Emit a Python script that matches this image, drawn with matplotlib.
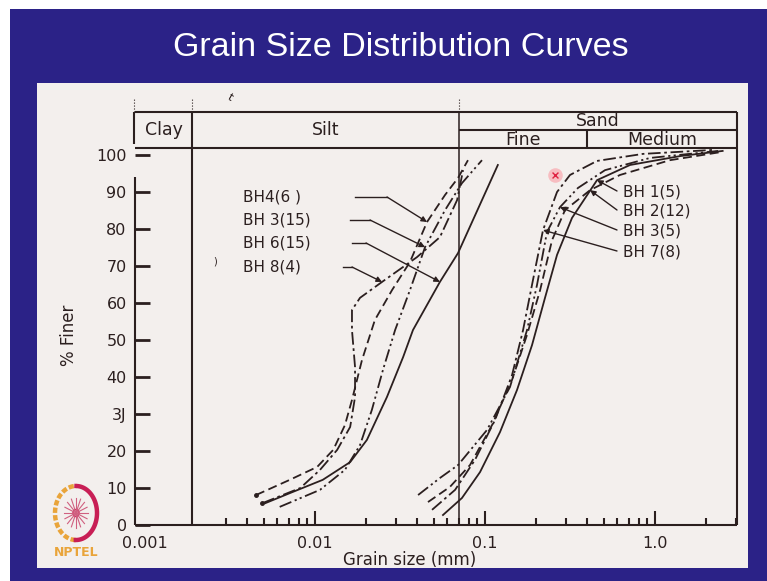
import numpy as np
import matplotlib
matplotlib.use('Agg')
import matplotlib.pyplot as plt
from matplotlib.patches import Rectangle, Ellipse

# ---- data (grain size in mm, % finer) ----
# silt group
bh4_6_d = [0.0045, 0.0071, 0.0103, 0.0128, 0.0150, 0.0165, 0.0189, 0.0225, 0.0284, 0.0362, 0.0456, 0.0582, 0.0694, 0.0794]
bh4_6_p = [8.1, 12.2, 15.7, 20.3, 27.0, 33.8, 44.6, 55.4, 63.5, 71.1, 81.9, 89.2, 93.8, 98.6]

bh3_15_d = [0.0062, 0.0107, 0.0150, 0.0184, 0.0216, 0.0251, 0.0296, 0.0362, 0.0444, 0.0582, 0.0732, 0.0960]
bh3_15_p = [4.9, 9.5, 14.9, 21.6, 31.1, 41.9, 52.7, 63.5, 75.1, 85.1, 92.4, 98.6]

bh6_15_d = [0.0051, 0.0071, 0.0111, 0.0161, 0.0202, 0.0265, 0.0330, 0.0377, 0.0543, 0.0694, 0.1190]
bh6_15_p = [5.9, 8.6, 12.2, 17.0, 23.0, 34.6, 45.4, 52.7, 65.7, 73.5, 97.3]

bh8_4_d = [0.0049, 0.0082, 0.0107, 0.0135, 0.0161, 0.0172, 0.0172, 0.0165, 0.0165, 0.0184, 0.0248, 0.0398, 0.0543, 0.0685, 0.0743]
bh8_4_p = [5.9, 10.0, 14.9, 20.3, 26.5, 34.6, 42.7, 52.7, 58.1, 61.4, 65.7, 72.4, 77.8, 87.8, 95.9]

# sand group
bh1_5_d = [0.0566, 0.0732, 0.0935, 0.1225, 0.1543, 0.189, 0.2254, 0.2653, 0.325, 0.456, 0.713, 1.403, 2.50]
bh1_5_p = [2.7, 7.3, 14.3, 25.1, 36.5, 48.6, 61.4, 73.0, 83.0, 93.2, 97.3, 99.7, 101.1]

bh2_12_d = [0.0462, 0.0622, 0.0816, 0.110, 0.1442, 0.1767, 0.211, 0.248, 0.2955, 0.415, 0.622, 1.225, 2.45]
bh2_12_p = [6.2, 10.3, 16.2, 27.0, 39.2, 51.4, 63.5, 77.0, 85.1, 90.5, 94.6, 98.6, 100.8]

bh3_5_d = [0.0404, 0.0543, 0.0694, 0.1028, 0.1403, 0.1767, 0.2023, 0.2316, 0.276, 0.3524, 0.508, 0.934, 2.35]
bh3_5_p = [8.1, 12.7, 16.2, 25.7, 37.3, 52.7, 64.9, 79.2, 85.9, 91.1, 95.9, 99.2, 101.1]

bh7_8_d = [0.0488, 0.0667, 0.0873, 0.1146, 0.1442, 0.1675, 0.1915, 0.2194, 0.2653, 0.3162, 0.456, 0.850, 2.25]
bh7_8_p = [4.1, 9.5, 17.6, 28.4, 40.5, 52.7, 66.2, 79.7, 90.0, 94.6, 98.4, 100.3, 101.4]

# soil class boundaries (mm) and axis labels
clay_silt = 0.0019
silt_sand = 0.07
fine_medium = 0.4
y_ticks = [0, 10, 20, 30, 40, 50, 60, 70, 80, 90, 100]
y_labels = ['0', '10', '20', '3J', '40', '50', '60', '70', '80', '90', '100']
x_major = [0.001, 0.01, 0.1, 1.0]
x_major_labels = ['0.001', '0.01', '0.1', '1.0']

# ---- style ----
INK = '#2b1f1f'
PAPER = '#f3efed'
SLIDE = '#2b2287'
W, H = 767, 581

fig = plt.figure(figsize=(W / 100, H / 100), dpi=100, facecolor='white')


def fpx(x, y):
    """pixel -> figure fraction"""
    return x / W, 1 - y / H


# slide background and paper
fig.patches.append(Rectangle((10 / W, 0), 1, 1 - 9 / H, transform=fig.transFigure,
                             facecolor=SLIDE, edgecolor='none', zorder=-3))
fig.patches.append(Rectangle(fpx(37, 568), (748 - 37) / W, (568 - 83) / H, transform=fig.transFigure,
                             facecolor=PAPER, edgecolor='none', zorder=-2))

fig.text(*fpx(401, 48), 'Grain Size Distribution Curves', color='white', fontsize=24.5,
         family=['Liberation Sans', 'DejaVu Sans'], ha='center', va='center')

# axes area in pixels: x 135..737, y 525 (0 %) .. 112 (header top)
ax = fig.add_axes([135 / W, 1 - 525 / H, (737 - 135) / W, (525 - 112) / H])
ax.patch.set_alpha(0)
ax.set_xscale('log')
x0, x1 = 10 ** ((135 - 655) / 170), 10 ** ((737 - 655) / 170)
ymax = (525 - 112) / 3.7
ax.set_xlim(x0, x1)
ax.set_ylim(0, ymax)
for s in ax.spines.values():
    s.set_visible(False)

frame = dict(color=INK, lw=1.5, solid_capstyle='butt', clip_on=False)
y_mid = (525 - 130) / 3.7
y_hdr = (525 - 148) / 3.7
ax.plot([x0, x1], [0, 0], **frame)
ax.plot([x0, x0], [0, 94], **frame)
ax.plot([x0 * 0.985, x0 * 0.985], [103, ymax], **frame)
ax.plot([x1, x1], [0, ymax], **frame)
ax.plot([x0, x1], [ymax, ymax], **frame)
ax.plot([x0, x1], [y_hdr, y_hdr], **frame)
ax.plot([silt_sand, x1], [y_mid, y_mid], **frame)
ax.plot([fine_medium, fine_medium], [y_hdr, y_mid], **frame)
ax.plot([clay_silt, clay_silt], [0, ymax], **frame)
ax.plot([silt_sand, silt_sand], [0, ymax], color=INK, lw=1.1, clip_on=False)
dots = dict(color=INK, lw=0.8, ls=':', clip_on=False)
for xv in (x0 * 0.985, clay_silt, silt_sand):
    ax.plot([xv, xv], [ymax, ymax + 3.5], **dots)

hdr = dict(color=INK, fontsize=12.5, ha='center', va='center')
ax.text(np.sqrt(x0 * clay_silt), (ymax + y_hdr) / 2, 'Clay', **hdr)
ax.text(np.sqrt(clay_silt * silt_sand), (ymax + y_hdr) / 2, 'Silt', **hdr)
ax.text(np.sqrt(silt_sand * x1), (ymax + y_mid) / 2, 'Sand', **hdr)
ax.text(np.sqrt(silt_sand * fine_medium), (y_mid + y_hdr) / 2 - 0.3, 'Fine', **hdr)
ax.text(np.sqrt(fine_medium * x1), (y_mid + y_hdr) / 2 - 0.3, 'Medium', **hdr)

# ticks
ax.set_yticks(y_ticks)
ax.set_yticklabels(y_labels)
ax.set_xticks(x_major)
ax.set_xticklabels(x_major_labels)
minors = [k * 10.0 ** n for n in range(-3, 1) for k in range(2, 10)]
minors = [m for m in minors if 0.0028 < m < x1]
ax.set_xticks(minors, minor=True)
ax.xaxis.set_minor_formatter(plt.NullFormatter())
ax.tick_params(axis='y', direction='in', length=11, width=2, colors=INK, labelsize=11.5, pad=6)
ax.tick_params(axis='x', which='major', direction='in', length=10, width=1.5, colors=INK,
               labelsize=11.5, pad=8)
ax.tick_params(axis='x', which='minor', direction='in', length=5, width=1.5, colors=INK)
ax.xaxis.get_major_ticks()[0].tick1line.set_visible(False)

fig.text(*fpx(410, 560), 'Grain size (mm)', color=INK, fontsize=12, ha='center', va='center')
fig.text(*fpx(69, 335), '% Finer', color=INK, fontsize=12, ha='center', va='center', rotation=90)

# ---- curves ----
DASH = (0, (5, 2.5))
DASHDOT = (0, (7, 2, 1.5, 2))
DASHDOTDOT = (0, (7, 2, 1.2, 1.8, 1.2, 2))
lw = 1.3
curves = [
    (bh4_6_d, bh4_6_p, DASH),
    (bh3_15_d, bh3_15_p, DASHDOTDOT),
    (bh6_15_d, bh6_15_p, '-'),
    (bh8_4_d, bh8_4_p, DASHDOT),
    (bh1_5_d, bh1_5_p, '-'),
    (bh2_12_d, bh2_12_p, DASH),
    (bh3_5_d, bh3_5_p, DASHDOTDOT),
    (bh7_8_d, bh7_8_p, DASHDOT),
]
for d, p, ls in curves:
    ax.plot(d, p, color=INK, lw=lw, ls=ls, clip_on=False)
for d, p in [(bh4_6_d, bh4_6_p), (bh8_4_d, bh8_4_p)]:
    ax.plot(d[0], p[0], 'o', color=INK, ms=2.5)


def pdata(x, y):
    """pixel -> data (for label placement)"""
    return 10 ** ((x - 655) / 170), (525 - y) / 3.7


def label(text, tx, ty, knee_x, kx0, target):
    ax.text(*pdata(tx, ty), text, color=INK, fontsize=11, ha='left', va='center')
    a = pdata(kx0, ty)
    b = pdata(knee_x, ty)
    ax.plot([a[0], b[0]], [a[1], b[1]], color=INK, lw=1.0)
    ax.annotate('', xy=target, xytext=b,
                arrowprops=dict(arrowstyle='-|>', mutation_scale=8, lw=1.0, color=INK,
                                shrinkA=0, shrinkB=0))


label('BH4(6 )', 243, 197, 387, 355, (bh4_6_d[10], bh4_6_p[10]))
label('BH 3(15)', 243, 220, 370, 350, (bh3_15_d[8], bh3_15_p[8]))
label('BH 6(15)', 243, 243, 366, 352, (bh6_15_d[8], bh6_15_p[8]))
label('BH 8(4)', 243, 267, 352, 343, (bh8_4_d[10], bh8_4_p[10]))

for text, ty, tgt in [('BH 1(5)', 192, (bh1_5_d[9], bh1_5_p[9])),
                      ('BH 2(12)', 211, (bh2_12_d[9], bh2_12_p[9])),
                      ('BH 3(5)', 231, (bh3_5_d[8], bh3_5_p[8])),
                      ('BH 7(8)', 252, (bh7_8_d[7], bh7_8_p[7]))]:
    ax.text(*pdata(623, ty), text, color=INK, fontsize=11, ha='left', va='center')
    ax.annotate('', xy=tgt, xytext=pdata(617, ty - 1),
                arrowprops=dict(arrowstyle='-|>', mutation_scale=8, lw=1.0, color=INK,
                                shrinkA=0, shrinkB=0))

# pointer mark and small scan marks
ax.scatter([0.258], [94.6], s=110, color='#ff6070', alpha=0.35, lw=0, clip_on=False)
ax.scatter([0.258], [94.6], s=18, marker='x', color='#e02040', lw=1.0, clip_on=False)
ax.text(*pdata(230, 97), 't', color=INK, fontsize=8, rotation=-30, ha='center', va='center')
ax.text(*pdata(215, 262), ')', color=INK, fontsize=7, ha='center', va='center')

# NPTEL logo
lg = fig.add_axes([48 / W, 1 - 562 / H, 56 / W, 80 / H])
lg.set_xlim(0, 56)
lg.set_ylim(80, 0)
lg.axis('off')
th = np.linspace(0, 2 * np.pi, 200)
lg.plot(28 + 21 * np.cos(th[50:151]), 31 + 27 * np.sin(th[50:151]), color='#e9a43a', lw=3.2,
        ls=(0, (1.2, 0.5)))
lg.plot(28 + 21 * np.cos(np.r_[th[150:], th[:51]]), 31 + 27 * np.sin(np.r_[th[150:], th[:51]]),
        color='#c81e55', lw=3.2)
for a in np.linspace(0, np.pi, 8, endpoint=False):
    lg.plot([28 - 12 * np.cos(a), 28 + 12 * np.cos(a)], [31 - 15 * np.sin(a), 31 + 15 * np.sin(a)],
            color='#d06080', lw=0.8)
lg.add_patch(Ellipse((28, 31), 6, 7, facecolor='none', edgecolor='#c81e55', lw=1))
lg.text(28, 70, 'NPTEL', color='#e9a43a', fontsize=9, fontweight='bold', ha='center', va='center')

fig.savefig('out.png', dpi=100, facecolor=fig.get_facecolor())
